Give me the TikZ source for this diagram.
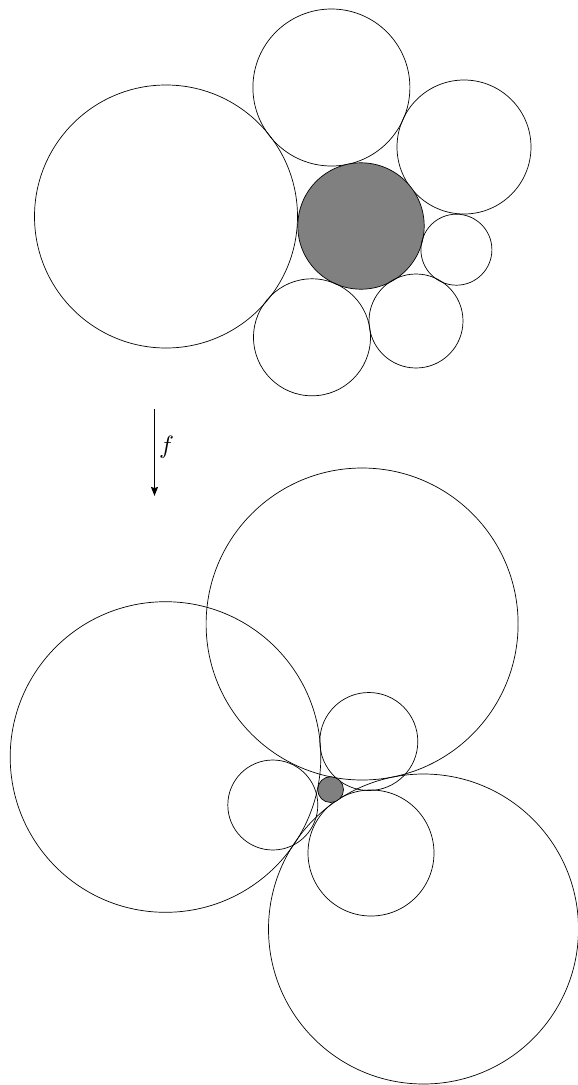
\documentclass[tikz,border=0pt]{standalone}
\usetikzlibrary{arrows.meta}
\begin{document}
\begin{tikzpicture}[x=1pt,y=-1pt,
  disc/.style={draw=black,line width=0.7pt},
  shaded/.style={disc,fill=gray},
  maplabel/.style={scale=2.5,inner sep=0pt},
  maparrow/.style={line width=1.3pt,-{Stealth[length=9pt,width=7pt,inset=1pt]}}]
\useasboundingbox (0,0) rectangle (578,1085);
% top configuration
\draw[disc] (166,216.5) circle[radius=131.5];
\draw[disc] (331.4,87.5) circle[radius=78.5];
\draw[disc] (464,147) circle[radius=67];
\draw[shaded] (361,226) circle[radius=63.2];
\draw[disc] (456.4,249.7) circle[radius=35.5];
\draw[disc] (416,321) circle[radius=47];
\draw[disc] (312,337.3) circle[radius=58.5];
% map arrow
\coordinate (src) at (154.5,409);
\coordinate (dst) at (154.5,496);
\draw[maparrow] (src) -- (dst);
\node[maplabel] (flabel) at (166.5,447) {$f$};
% bottom configuration
\draw[disc] (165.5,757) circle[radius=155.3];
\draw[disc] (362.1,624) circle[radius=156];
\draw[disc] (423.5,929) circle[radius=155];
\draw[disc] (368.8,741.5) circle[radius=49];
\draw[disc] (272.8,805) circle[radius=45];
\draw[disc] (371,853) circle[radius=63];
\draw[shaded] (330.6,789.6) circle[radius=12.9];
\end{tikzpicture}
\end{document}
